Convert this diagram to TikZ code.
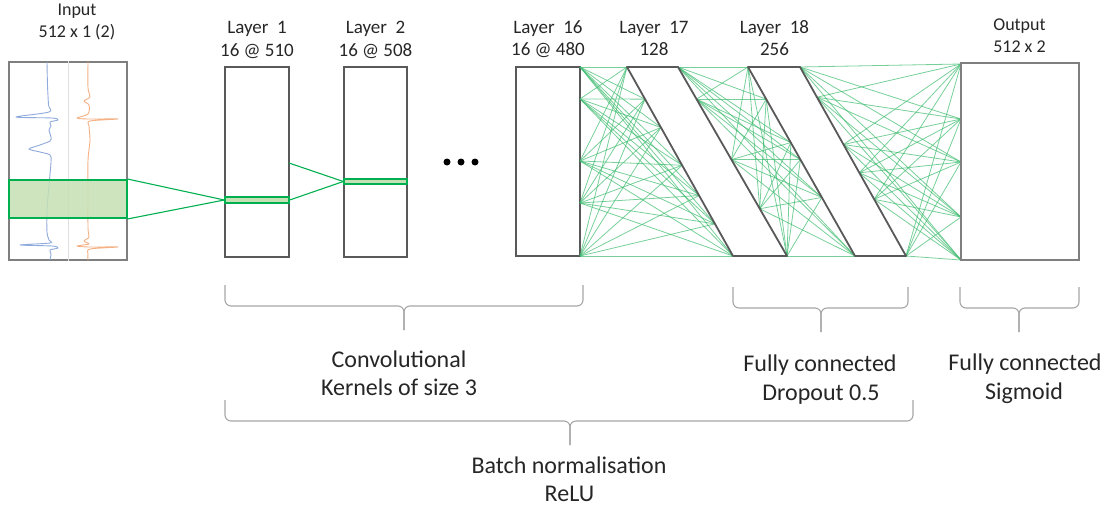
\documentclass[tikz,border=0pt]{standalone}
\usepackage{fontspec}
\setmainfont{Carlito}
\usetikzlibrary{calc}

\definecolor{txt}{HTML}{262626}
\definecolor{boxgray}{HTML}{595959}
\definecolor{outgray}{HTML}{7F7F7F}
\definecolor{bracegray}{HTML}{A6A6A6}
\definecolor{kgreen}{HTML}{00B050}
\definecolor{kfill}{HTML}{C5E0B4}
\definecolor{fcgreen}{HTML}{3DBB6E}
\definecolor{sigblue}{HTML}{8FAADC}
\definecolor{sigorange}{HTML}{F4B183}

% curly bracket: x-left, x-right, x-tip, y-top, y-bar, y-tip
\newcommand\drawbrace[6]{%
  \draw[bracestyle] (#1,#4) -- (#1,#5) -- (#3,#5) -- (#3,#6);
  \draw[bracestyle] (#3,#6) -- (#3,#5) -- (#2,#5) -- (#2,#4);
}

\begin{document}
\begin{tikzpicture}[x=1pt,y=-1pt,
  lab/.style={anchor=base, font=\fontsize{18}{22}\selectfont, text=txt, inner sep=0pt},
  laylab/.style={lab, font=\fontsize{19}{23}\selectfont},
  captext/.style={anchor=base, font=\fontsize{24}{29}\selectfont, text=txt, inner sep=0pt},
  layerbox/.style={draw=boxgray, line width=1.8pt, fill=white, inner sep=0pt,
                   minimum width=64pt, minimum height=190pt},
  band/.style={draw=kgreen, line width=1.4pt, fill=kfill, inner sep=0pt, minimum width=64pt},
  kline/.style={kgreen, line width=1.1pt},
  fc/.style={fcgreen, line width=0.8pt, opacity=0.7},
  poly/.style={draw=boxgray, line width=1.8pt, line join=round},
  bracestyle/.style={bracegray, line width=1.1pt, rounded corners=6pt},
  dot/.style={circle, fill=black, inner sep=0pt, minimum size=7pt},
  trace/.style={line width=0.9pt, line join=round},
]
\useasboundingbox (0,0) rectangle (1108,508);

% ---------- input signal panel ----------
\node[draw=outgray, line width=1.2pt, fill=white, inner sep=0pt,
      minimum width=118pt, minimum height=198pt] (inp) at (68,161) {};
\draw[black!12, line width=1pt] (inp.north) -- (inp.south);
\draw[trace, sigblue] plot[smooth, tension=0.5] coordinates {
  (47,62) (47.5,85) (48.5,105) (49,112) (16,117) (52,118) (58,120) (50,122)
  (51,126) (49,130) (51,137) (50,141) (40,145) (29,149) (40,152) (50,155)
  (51,162) (49,185) (47,210) (47,232) (49,240) (50,243) (20,245) (52,246)
  (58,248) (50,250) (51,254) (50,260)};
\draw[trace, sigorange] plot[smooth, tension=0.5] coordinates {
  (88,62) (88,88) (90,97) (84,101) (89,105) (88,114) (77,118) (88,119)
  (118,119) (90,121) (89,126) (90,140) (88,160) (88,190) (88,228) (89,237)
  (84,241) (89,244) (77,246) (89,247) (118,247) (90,249) (88,254) (88,260)};
\node[draw=kgreen, line width=1.8pt, fill=kfill, fill opacity=0.85, inner sep=0pt,
      minimum width=118pt, minimum height=38pt] (hl) at (68,199) {};

% ---------- convolutional layers ----------
\node[layerbox] (L1) at (257,162) {};
\node[layerbox, minimum width=63pt] (L2) at (375.5,162) {};
\node[layerbox, minimum height=189pt] (L16) at (548,161.5) {};
\node[band, minimum height=6pt] (b1) at (257,200) {};
\node[band, minimum width=63pt, minimum height=5pt] (b2) at (375.5,181.5) {};

\draw[kline] (hl.north east) -- (b1.west);
\draw[kline] (hl.south east) -- (b1.west);
\coordinate (k1) at (289,163);
\draw[kline] (k1) -- (b2.west);
\draw[kline] (b1.east) -- (b2.west);

\node[dot] (d1) at (447,162) {};
\node[dot] (d2) at (461,162) {};
\node[dot] (d3) at (475,162) {};

% ---------- fully connected layers ----------
\coordinate (p17a) at (627,67);  \coordinate (p17b) at (678,67);
\coordinate (p17c) at (787,256); \coordinate (p17d) at (733,256);
\coordinate (p18a) at (748,67);  \coordinate (p18b) at (800,67);
\coordinate (p18c) at (906,256); \coordinate (p18d) at (855,256);

\foreach \i/\y in {1/67,2/99,3/161,4/203,5/256}
  \coordinate (a\i) at (580,\y);
\foreach \i/\t in {1/0,2/.17,3/.32,4/.52,5/.68,6/.83,7/1}
  \coordinate (b\i) at ($(p17a)!\t!(p17d)$);
\foreach \i/\t in {1/0,2/.17,3/.49,4/.75,5/1}
  \coordinate (c\i) at ($(p17b)!\t!(p17c)$);
\foreach \i/\t in {1/0,2/.17,3/.40,4/.49,5/.69,6/1}
  \coordinate (d\i) at ($(p18a)!\t!(p18d)$);
\foreach \i/\t in {1/0,2/.16,3/.41,4/.56,5/.70,6/1}
  \coordinate (e\i) at ($(p18b)!\t!(p18c)$);
\foreach \i/\y in {1/64,2/119,3/162,4/217,5/260}
  \coordinate (f\i) at (961,\y);

\foreach \i in {1,...,5} \foreach \j in {1,...,7} \draw[fc] (a\i) -- (b\j);
\foreach \i in {1,...,5} \foreach \j in {1,...,6} \draw[fc] (c\i) -- (d\j);
\foreach \i in {1,...,6} \foreach \j in {1,...,5} \draw[fc] (e\i) -- (f\j);

\draw[poly] (p17a) -- (p17b) -- (p17c) -- (p17d) -- cycle;
\draw[poly] (p18a) -- (p18b) -- (p18c) -- (p18d) -- cycle;

\node[draw=outgray, line width=1.2pt, inner sep=0pt,
      minimum width=118pt, minimum height=197pt] (out) at (1020,161.5) {};

% ---------- layer titles ----------
\node[lab] (t0a) at (77,15.5) {Input};
\node[lab] (t0b) at (77,38) {512 x 1 (2)};
\node[laylab] (t1a) at (257,34) {Layer~~1};
\node[laylab] (t1b) at (257,56.5) {16 @ 510};
\node[laylab] (t2a) at (375.5,34) {Layer~~2};
\node[laylab] (t2b) at (375.5,56.5) {16 @ 508};
\node[laylab] (t16a) at (548,33.5) {Layer~~16};
\node[laylab] (t16b) at (548,55.5) {16 @ 480};
\node[laylab] (t17a) at (654,33.5) {Layer~~17};
\node[laylab] (t17b) at (654,55.5) {128};
\node[laylab] (t18a) at (774.5,33.5) {Layer~~18};
\node[laylab] (t18b) at (774.5,55.5) {256};
\node[lab] (toa) at (1019.5,30.5) {Output};
\node[lab] (tob) at (1019.5,52.5) {512 x 2};

% ---------- braces and captions ----------
\drawbrace{225}{583}{404}{285}{306}{330}
\drawbrace{733}{908}{821}{287}{308}{332}
\drawbrace{960}{1079}{1019}{287}{308}{332}
\drawbrace{225}{913}{570}{400}{421}{445}

\node[captext] (c1a) at (399,367) {Convolutional};
\node[captext] (c1b) at (399,395.5) {Kernels of size 3};
\node[captext] (c2a) at (820,371.5) {Fully connected};
\node[captext] (c2b) at (821,400.5) {Dropout 0.5};
\node[captext] (c3a) at (1025,370.5) {Fully connected};
\node[captext] (c3b) at (1024,399) {Sigmoid};
\node[captext] (c4a) at (569,473.5) {Batch normalisation};
\node[captext] (c4b) at (569.5,501.5) {ReLU};
\end{tikzpicture}
\end{document}
